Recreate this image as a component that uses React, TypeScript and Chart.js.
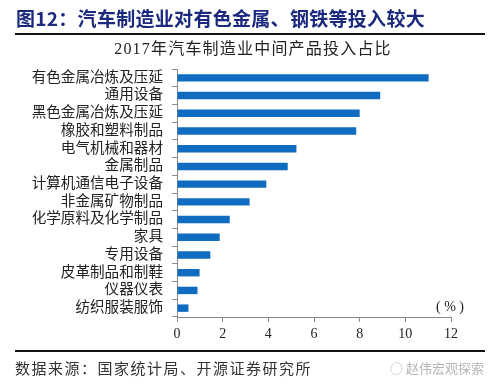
import React, { useEffect, useRef } from "react";
import { Chart, registerables } from "chart.js";

Chart.register(...registerables);

const categories = [
  "有色金属冶炼及压延",
  "通用设备",
  "黑色金属冶炼及压延",
  "橡胶和塑料制品",
  "电气机械和器材",
  "金属制品",
  "计算机通信电子设备",
  "非金属矿物制品",
  "化学原料及化学制品",
  "家具",
  "专用设备",
  "皮革制品和制鞋",
  "仪器仪表",
  "纺织服装服饰",
];
const values = [11.02, 8.9, 8.0, 7.85, 5.23, 4.85, 3.91, 3.18, 2.31, 1.87, 1.46, 0.99, 0.9, 0.5];
const xTicks = [0, 2, 4, 6, 8, 10, 12];

const mainTitle = "图12：汽车制造业对有色金属、钢铁等投入较大";
const chartTitle = "2017年汽车制造业中间产品投入占比";
const unitLabel = "( % )";
const sourceText = "数据来源：国家统计局、开源证券研究所";
const watermark = "赵伟宏观探索";

const serif = "'Liberation Serif', 'Noto Sans CJK SC', serif";

export default function App() {
  const ref = useRef<HTMLCanvasElement | null>(null);
  useEffect(() => {
    document.body.style.margin = "0";
    const ctx = ref.current!;
    const chart = new Chart(ctx, {
      type: "bar",
      data: {
        labels: categories,
        datasets: [
          {
            data: values,
            backgroundColor: "#0F6CC0",
            borderWidth: 0,
            barPercentage: 0.42,
            categoryPercentage: 1,
          },
        ],
      },
      options: {
        indexAxis: "y",
        animation: false,
        responsive: false,
        maintainAspectRatio: false,
        layout: { padding: { left: 0, right: 49, top: 69, bottom: 47 } },
        plugins: { legend: { display: false }, tooltip: { enabled: false }, title: { display: false } },
        scales: {
          y: {
            afterFit: (s: any) => {
              s.width = 177;
            },
            grid: {
              drawOnChartArea: false,
              drawTicks: true,
              tickLength: 5,
              color: "#8a8a8a",
              offset: true,
            },
            border: { display: true, color: "#8a8a8a", width: 1 },
            ticks: {
              color: "#222",
              padding: 9,
              font: { family: serif, size: 14.6 },
              autoSkip: false,
            },
          },
          x: {
            min: 0,
            max: 12,
            afterFit: (s: any) => {
              s.height = 25;
            },
            afterBuildTicks: (s: any) => {
              s.ticks = xTicks.map((v) => ({ value: v }));
            },
            grid: {
              drawOnChartArea: false,
              drawTicks: true,
              tickLength: 5,
              color: "#8a8a8a",
            },
            border: { display: true, color: "#8a8a8a", width: 1 },
            ticks: {
              color: "#222",
              padding: 4,
              font: { family: serif, size: 14 },
            },
          },
        },
      },
    });
    return () => chart.destroy();
  }, []);

  return (
    <div style={{ position: "absolute", left: 0, top: 0, width: 500, height: 389, background: "#fff", overflow: "hidden" }}>
      <canvas ref={ref} width={500} height={389} style={{ position: "absolute", left: 0, top: 0, width: 500, height: 389 }} />
      <div
        style={{
          position: "absolute",
          left: 16,
          top: 5,
          fontFamily: "'Noto Sans CJK SC', sans-serif",
          fontWeight: 700,
          fontSize: 19,
          letterSpacing: 0.3,
          color: "#1B2A7E",
          whiteSpace: "nowrap",
          lineHeight: "25px",
        }}
      >
        {mainTitle}
      </div>
      <div style={{ position: "absolute", left: 15, top: 33, width: 470, height: 2, background: "#111" }} />
      <div
        style={{
          position: "absolute",
          left: 0,
          width: 506,
          top: 39,
          textAlign: "center",
          fontFamily: serif,
          fontSize: 16,
          letterSpacing: 1.2,
          color: "#222",
          lineHeight: "20px",
          whiteSpace: "nowrap",
        }}
      >
        {chartTitle}
      </div>
      <div
        style={{
          position: "absolute",
          left: 436,
          top: 298,
          fontFamily: serif,
          fontSize: 14,
          color: "#222",
          lineHeight: "18px",
          whiteSpace: "pre",
        }}
      >
        {unitLabel}
      </div>
      <div style={{ position: "absolute", left: 15, top: 350, width: 470, height: 2, background: "#111" }} />
      <div
        style={{
          position: "absolute",
          left: 15,
          top: 358,
          fontFamily: "'Noto Sans CJK SC', sans-serif",
          fontSize: 15,
          letterSpacing: 1.5,
          color: "#333",
          lineHeight: "20px",
          whiteSpace: "nowrap",
        }}
      >
        {sourceText}
      </div>
      <div
        style={{
          position: "absolute",
          left: 390,
          top: 358,
          fontFamily: "'Noto Sans CJK SC', sans-serif",
          fontSize: 13,
          color: "#b5b5b5",
          lineHeight: "20px",
          whiteSpace: "nowrap",
        }}
      >
        {"◌ "}
        {watermark}
      </div>
    </div>
  );
}
